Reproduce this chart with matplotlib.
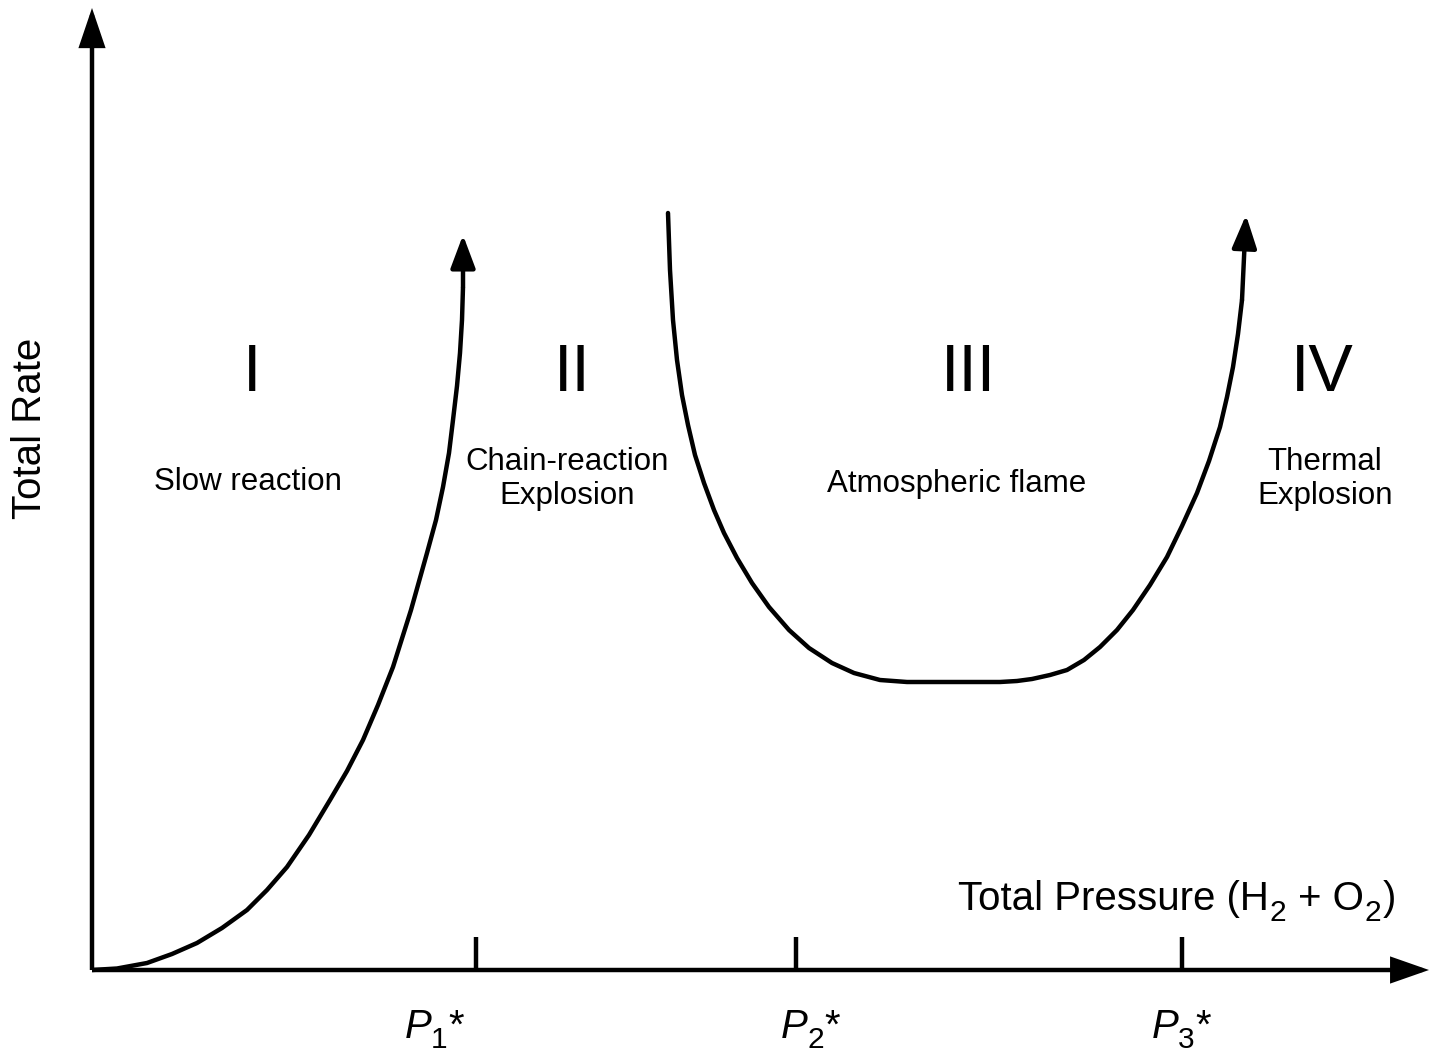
import matplotlib
matplotlib.use("Agg")
import matplotlib.pyplot as plt
from matplotlib.patches import FancyArrowPatch

plt.rcParams['font.family'] = ['Liberation Sans', 'DejaVu Sans']

# ---- data (schematic curves) ----
curve1_x = [0, 25, 55, 80, 105, 130, 155, 175, 195, 217, 238, 255, 271, 286, 301,
            319, 335, 344, 351, 357, 361, 365, 368, 370, 371]
curve1_y = [0, 1.5, 7, 16, 27, 42, 60, 80, 103, 135, 170, 199, 230, 265, 303,
            360, 417, 450, 483, 517, 550, 584, 617, 650, 683]
curve1_tip = (371, 735)

curve2_x = [576, 578, 581, 585, 590, 596, 603, 612, 622, 632, 645, 660, 677, 697,
            717, 740, 762, 788, 815, 848, 908, 925, 940, 958, 975, 992, 1008, 1025,
            1041, 1058, 1075, 1090, 1105, 1117, 1128, 1135, 1141, 1146, 1150]
curve2_y = [757, 700, 650, 610, 575, 545, 515, 487, 460, 437, 412, 387, 363, 340,
            322, 307, 297, 290, 288, 288, 288, 289, 291, 295, 300, 310, 323, 340,
            360, 385, 413, 444, 477, 509, 543, 573, 603, 636, 670]
curve2_tip = (1154, 755)

tick_pos = [384, 704, 1090]
tick_subs = ['1', '2', '3']
tick_label_x = [313, 689, 1060]

regions = ['I', 'II', 'III', 'IV']
region_x = [160, 480, 876, 1230]
region_desc = ['Slow reaction', 'Chain-reaction\nExplosion', 'Atmospheric flame', 'Thermal\nExplosion']
desc_x = [156, 475, 865, 1233]
desc_y = [488, 491, 486, 491]

y_label = 'Total Rate'

# ---- figure ----
fig = plt.figure(figsize=(14.30, 10.56), dpi=100)
ax = fig.add_axes([0, 0, 1, 1])
ax.set_xlim(-92, 1338)
ax.set_ylim(-86, 970)
ax.axis('off')

LW = 3.2
k = 72 / 100.0  # px -> pt
FS = 29
FS_SUB = 21.5


def chain(x, y, pieces):
    """Place text pieces one after another on a common baseline y."""
    prev = None
    for s, fs, dx, dy, st in pieces:
        if prev is None:
            t = ax.text(x, y, s, fontsize=fs, style=st, ha='left', va='baseline')
        else:
            t = ax.annotate(s, xy=(1, y), xycoords=(prev, 'data'), xytext=(dx, dy),
                            textcoords='offset points', fontsize=fs, style=st,
                            ha='left', va='baseline')
        prev = t


# axes arrows
for start, end, hl in [((0, 0), (0, 962), 31), ((0, 0), (1337, 0), 30)]:
    ax.add_patch(FancyArrowPatch(start, end, arrowstyle=f'-|>,head_length={hl*k},head_width={10.5*k}',
                                 mutation_scale=1, lw=LW, color='black', shrinkA=0, shrinkB=0,
                                 capstyle='butt', joinstyle='miter'))

# ticks
for t in tick_pos:
    ax.plot([t, t], [0, 33], color='black', lw=LW, solid_capstyle='butt')
for sub, lx in zip(tick_subs, tick_label_x):
    chain(lx, -68, [('P', FS, 0, 0, 'italic'),
                    (sub, FS_SUB, -0.5, -7.5, 'normal'),
                    ('*', FS, 0.5, 0, 'normal')])

# curves
ax.plot(curve1_x, curve1_y, color='black', lw=LW, solid_capstyle='butt', solid_joinstyle='round')
ax.add_patch(FancyArrowPatch((curve1_x[-1], curve1_y[-1]), curve1_tip,
                             arrowstyle=f'-|>,head_length={28*k},head_width={10.5*k}',
                             mutation_scale=1, lw=LW, color='black', shrinkA=0, shrinkB=0))
ax.plot(curve2_x, curve2_y, color='black', lw=LW, solid_capstyle='round', solid_joinstyle='round')
ax.add_patch(FancyArrowPatch((curve2_x[-1], curve2_y[-1]), curve2_tip,
                             arrowstyle=f'-|>,head_length={28*k},head_width={10.5*k}',
                             mutation_scale=1, lw=LW, color='black', shrinkA=0, shrinkB=0))

# region labels
for r, rx in zip(regions, region_x):
    ax.text(rx, 596, r, fontsize=48, ha='center', va='center')
for d, dx, dy in zip(region_desc, desc_x, desc_y):
    ax.text(dx, dy, d, fontsize=22.5, ha='center', va='center', linespacing=1.15)

# axis labels
chain(866, 60, [('Total Pressure (H', FS, 0, 0, 'normal'),
                ('2', FS_SUB, 0.3, -8, 'normal'),
                ('+ O', FS, 8.5, 0, 'normal'),
                ('2', FS_SUB, 0.3, -8, 'normal'),
                (')', FS, 1.2, 0, 'normal')])
ax.text(-62, 542, y_label, fontsize=FS, ha='center', va='center', rotation=90)

fig.savefig('out.png', dpi=100)
